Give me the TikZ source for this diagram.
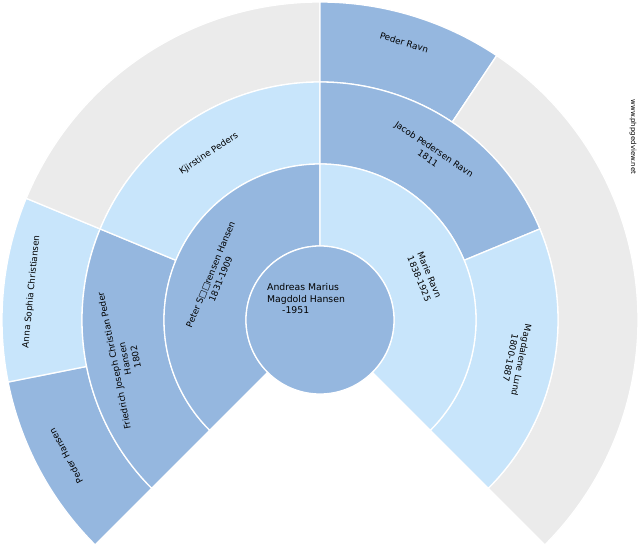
\documentclass[tikz,border=0pt]{standalone}
\usepackage{fontspec}
\setmainfont{DejaVu Sans}
\definecolor{dk}{HTML}{95B7DF}
\definecolor{lt}{HTML}{C8E5FB}
\definecolor{gy}{HTML}{EBEBEB}
\newcommand\fanseg[5]{\filldraw[fill=#1,draw=white,line width=1.3pt] ([shift={(320,230)}]#2:#4) arc[start angle=#2,end angle=#3,radius=#4] -- ([shift={(320,230)}]#3:#5) arc[start angle=#3,end angle=#2,radius=#5] -- cycle;}
\begin{document}
\begin{tikzpicture}[x=1pt,y=1pt,lab/.style={font=\fontsize{8.8}{11}\selectfont,align=center,inner sep=0pt}]
\useasboundingbox (0,0) rectangle (640,550);
\clip (0,0) rectangle (640,550);
% ring 3
\fanseg{dk}{191.25}{225}{238}{318}
\fanseg{lt}{157.5}{191.25}{238}{318}
\fanseg{gy}{90}{157.5}{238}{318}
\fanseg{dk}{56.25}{90}{238}{318}
\fanseg{gy}{-45}{56.25}{238}{318}
% ring 2
\fanseg{dk}{157.5}{225}{156}{238}
\fanseg{lt}{90}{157.5}{156}{238}
\fanseg{dk}{22.5}{90}{156}{238}
\fanseg{lt}{-45}{22.5}{156}{238}
% ring 1
\fanseg{dk}{90}{225}{74}{156}
\fanseg{lt}{-45}{90}{74}{156}
\filldraw[fill=dk,draw=white,line width=1.3pt] (320,230) circle[radius=74];
% labels
\node[lab,anchor=west,align=left,font=\fontsize{9.3}{11.5}\selectfont] (c) at (267,251) {Andreas Marius\\Magdold Hansen\\\hspace*{15pt}-1951};
\node[lab,rotate=67.5] (p1) at ([shift={(320,230)}]157.5:113) {Peter S□□rensen Hansen\\1831-1909};
\node[lab,rotate=-67.5] (p2) at ([shift={(320,230)}]22.5:113) {Marie Ravn\\1838-1925};
\node[lab,rotate=101.25] (p3) at ([shift={(320,230)}]191.25:199) {Friedrich Joseph Christian Peder\\Hansen\\1802};
\node[lab,rotate=33.75] (p4) at ([shift={(320,230)}]123.75:200) {Kjirstine Peders};
\node[lab,rotate=-33.75] (p5) at ([shift={(320,230)}]56.25:200) {Jacob Pedersen Ravn\\1811};
\node[lab,rotate=-101.25] (p6) at ([shift={(320,230)}]-11.25:200) {Magdalene Lund\\1800-1887};
\node[lab,rotate=118.125] (p7) at ([shift={(320,230)}]208.125:288) {Peder Hansen};
\node[lab,rotate=84.375] (p8) at ([shift={(320,230)}]174.375:290) {Anna Sophia Christiansen};
\node[lab,rotate=-16.875] (p9) at ([shift={(320,230)}]73.125:290) {Peder Ravn};
\node[font=\fontsize{7}{8}\selectfont,rotate=-90,inner sep=0pt] (w) at (633,413) {www.phpgedview.net};
\end{tikzpicture}
\end{document}
